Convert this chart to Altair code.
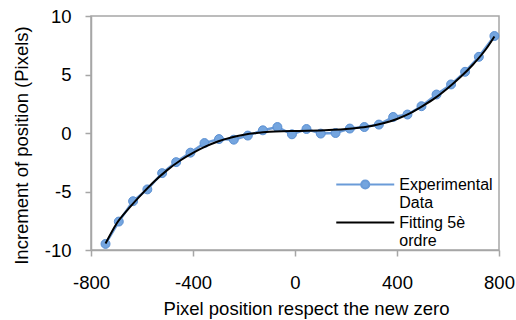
import altair as alt
import pandas as pd

exp_x = [-743, -691, -635, -579, -521, -466, -410, -355, -298, -240, -185, -126, -69, -12,
         45, 101, 159, 215, 272, 329, 385, 441, 496, 555, 612, 667, 721, 782]
exp_y = [-9.48, -7.57, -5.83, -4.82, -3.43, -2.49, -1.68, -0.86, -0.52, -0.57, -0.22, 0.23, 0.51, -0.11,
         0.34, -0.05, 0.0, 0.38, 0.51, 0.72, 1.37, 1.58, 2.29, 3.29, 4.15, 5.23, 6.51, 8.29]

# Fitted 5th-order curve
fit_x = [-743, -700, -650, -600, -550, -500, -450, -400, -350, -300, -250, -200, -150, -100, -50, 0,
         50, 100, 150, 200, 250, 300, 350, 400, 450, 500, 550, 600, 650, 700, 750, 782]
fit_y = [-9.45, -7.75, -6.4, -5.2, -4.1, -3.15, -2.35, -1.7, -1.15, -0.7, -0.38, -0.15, 0.0, 0.1, 0.15, 0.17,
         0.19, 0.22, 0.27, 0.34, 0.45, 0.6, 0.85, 1.2, 1.68, 2.3, 3.0, 3.85, 4.8, 5.9, 7.2, 8.25]

series_names = ["Experimental Data", "Fitting 5è ordre"]
x_ticks = [-800, -400, 0, 400, 800]
y_ticks = [-10, -5, 0, 5, 10]

BLUE = "#6a9bd8"
PFILL = "#74a5df"
PSTROKE = "#5a8fd2"
GRAY = "#a6a6a6"
FONT = "Liberation Sans"

exp_df = pd.DataFrame({"x": exp_x, "y": exp_y})
fit_df = pd.DataFrame({"x": fit_x, "y": fit_y})
leg_df = pd.DataFrame({"x": [0, 0], "y": [0, 0], "series": series_names})

xscale = alt.Scale(domain=[-800, 800], nice=False, zero=False)
yscale = alt.Scale(domain=[-10, 10], nice=False, zero=False)

xaxis = alt.Axis(values=x_ticks, title="Pixel position respect the new zero", titleX=215, titleY=64,
                 titleBaseline="alphabetic", titleAlign="center", grid=False, labelPadding=17,
                 tickSize=6, labelFlush=False, labelExpr="'' + datum.value")
yaxis = alt.Axis(values=y_ticks, title="Increment of position (Pixels)", titleX=-64, titleY=129,
                 titleAngle=270, titleBaseline="alphabetic", titleAlign="center", grid=False,
                 labelPadding=14, tickSize=6, labelFlush=False, labelExpr="'' + datum.value")

X = alt.X("x:Q", scale=xscale, axis=xaxis)
Y = alt.Y("y:Q", scale=yscale, axis=yaxis)

exp_line = alt.Chart(exp_df).mark_line(color=BLUE, strokeWidth=2.5).encode(x=X, y=Y)
exp_pts = alt.Chart(exp_df).mark_point(filled=True, size=80, fill=PFILL, stroke=PSTROKE,
                                       strokeWidth=1, opacity=1).encode(x=X, y=Y)
fit_line = alt.Chart(fit_df).mark_line(color="black", strokeWidth=2, interpolate="monotone").encode(x=X, y=Y)

exp_sym = ("M-4,0H-0.55 M0.55,0H4 M-0.55,0A0.55,0.55 0 1,1 0.55,0A0.55,0.55 0 1,1 -0.55,0Z")
fit_sym = "M-4,0H4"

leg = alt.Legend(title=None, orient="none", legendX=265.75, legendY=160, padding=0,
                 symbolSize=210, symbolOffset=0, symbolStrokeWidth=2.2, labelOffset=25.5,
                 labelFont=FONT, labelFontSize=16, labelColor="black", rowPadding=3,
                 labelExpr="datum.label == 'Experimental Data' ? ['Experimental', 'Data'] : ['Fitting 5è', 'ordre']")

legend_layer = alt.Chart(leg_df).transform_filter("false").mark_point(filled=True, opacity=1).encode(
    x=X, y=Y,
    fill=alt.Fill("series:N", scale=alt.Scale(domain=series_names, range=[PFILL, "black"]), legend=leg),
    stroke=alt.Stroke("series:N", scale=alt.Scale(domain=series_names, range=[BLUE, "black"]), legend=leg),
    shape=alt.Shape("series:N", scale=alt.Scale(domain=series_names, range=[exp_sym, fit_sym]), legend=leg),
)

chart = alt.layer(exp_line, exp_pts, fit_line, legend_layer).properties(
    width=408, height=234,
    autosize=alt.AutoSizeParams(type="none"),
    padding={"left": 91, "top": 16, "right": 17, "bottom": 70},
).configure_view(stroke=GRAY, strokeWidth=1.5).configure_axis(
    domainColor=GRAY, domainWidth=1.5, tickColor=GRAY, tickWidth=1.5,
    labelFont=FONT, labelFontSize=18.5, labelColor="black",
    titleFont=FONT, titleFontSize=18.5, titleFontWeight="normal", titleColor="black",
)

chart.save("out.html", embed_options={"renderer": "svg", "actions": False})
